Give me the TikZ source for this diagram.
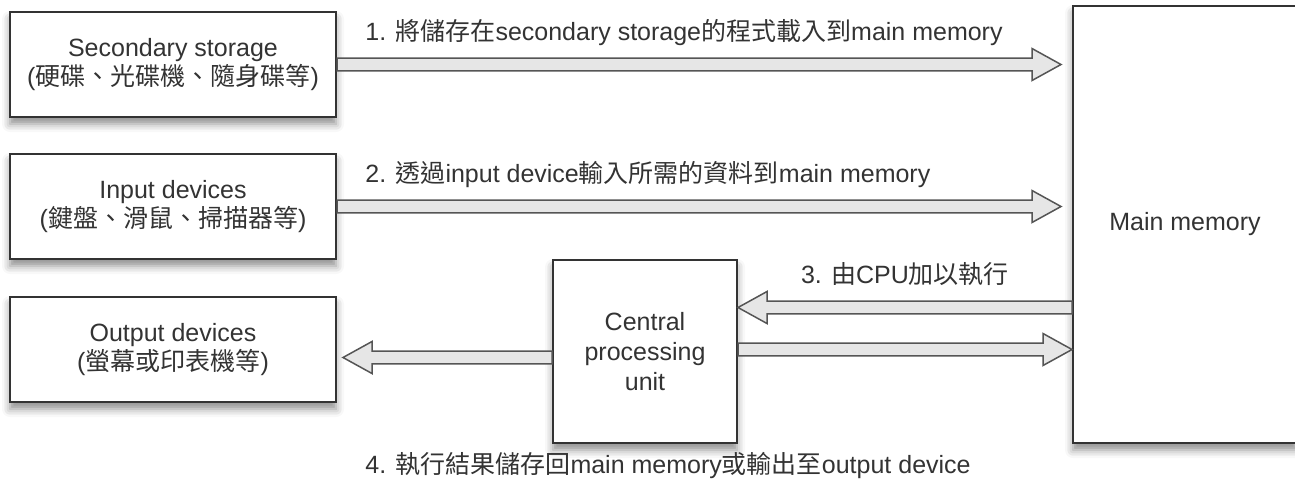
\documentclass[tikz,border=0pt]{standalone}
\usepackage{fontspec}
\setmainfont{Liberation Sans}
\newfontfamily\cjk{Noto Sans CJK TC}
\usepackage{xcolor}
\usepackage{tikz}
\usetikzlibrary{positioning, calc, shadows.blur}

\definecolor{boxline}{HTML}{333333}
\definecolor{arrowline}{HTML}{555555}
\definecolor{arrowfill}{HTML}{E6E6E6}
\definecolor{txt}{HTML}{333333}

% hollow block arrow from #1 to #2
\newcommand\blockarrow[2]{%
  \coordinate (ba-s) at (#1);
  \coordinate (ba-e) at (#2);
  \coordinate (ba-b) at ($(ba-e)!14.5pt!(ba-s)$);
  \draw[fat] ($(ba-s)!3.2pt!90:(ba-e)$) -- ($(ba-b)!3.2pt!-90:(ba-s)$)
    -- ($(ba-b)!8pt!-90:(ba-s)$) -- (ba-e) -- ($(ba-b)!8pt!90:(ba-s)$)
    -- ($(ba-b)!3.2pt!90:(ba-s)$) -- ($(ba-s)!3.2pt!-90:(ba-e)$) -- cycle;}

\begin{document}
\begin{tikzpicture}[
    x=0.5pt, y=-0.5pt,
    unitbox/.style={rectangle, draw=boxline, line width=1pt, fill=white, align=center,
      text=txt, font=\fontsize{12.5}{14.5}\selectfont,
      blur shadow={shadow xshift=0pt, shadow yshift=-3.5pt, shadow blur radius=4pt, shadow opacity=45}},
    fat/.style={draw=arrowline, line width=0.75pt, fill=arrowfill, line join=miter},
    steplabel/.style={inner sep=0pt, text=txt, font=\fontsize{12.5}{14.5}\selectfont}
]
\useasboundingbox (0,0) rectangle (1295,489);

% Units
\node[unitbox, minimum width=163pt, minimum height=52.5pt] (sec) at (173, 64.5)
  {Secondary storage\\({\cjk 硬碟、光碟機、隨身碟等})};
\node[unitbox, minimum width=163pt, minimum height=52.5pt] (inp) at (173, 206.5)
  {Input devices\\({\cjk 鍵盤、滑鼠、掃描器等})};
\node[unitbox, minimum width=163pt, minimum height=52.5pt] (outp) at (173, 349.5)
  {Output devices\\({\cjk 螢幕或印表機等})};
\node[unitbox, minimum width=92pt, minimum height=91.5pt, font=\fontsize{12.5}{15}\selectfont] (cpu) at (645, 351.5)
  {Central\\processing\\unit};
\node[unitbox, minimum width=112pt, minimum height=218.5pt] (mm) at (1185, 224.5) {Main memory};

% Arrow ends
\coordinate (t1) at ([xshift=-5.5pt]mm.west |- sec.east);
\coordinate (t2) at ([xshift=-5.5pt]mm.west |- inp.east);
\coordinate (t3) at ([yshift=22pt]cpu.east);
\coordinate (t4) at ([yshift=1pt]cpu.east);
\coordinate (t5) at ([yshift=-3pt]cpu.west);
\coordinate (t6) at ([xshift=3pt]outp.east |- t5);

% Arrows
\blockarrow{sec.east}{t1}
\blockarrow{inp.east}{t2}
\blockarrow{mm.west |- t3}{t3}
\blockarrow{t4}{mm.west |- t4}
\blockarrow{t5}{t6}

% Step labels
\node[steplabel, anchor=base west] (l1) at (365, 40)
  {1. {\cjk 將儲存在}secondary storage{\cjk 的程式載入到}main memory};
\node[steplabel, anchor=base west] (l2) at (365, 182)
  {2. {\cjk 透過}input device{\cjk 輸入所需的資料到}main memory};
\node[steplabel, anchor=base] (l3) at (905, 283)
  {3. {\cjk 由}CPU{\cjk 加以執行}};
\node[steplabel, anchor=base west] (l4) at (365, 473)
  {4. {\cjk 執行結果儲存回}main memory{\cjk 或輸出至}output device};
\end{tikzpicture}
\end{document}
